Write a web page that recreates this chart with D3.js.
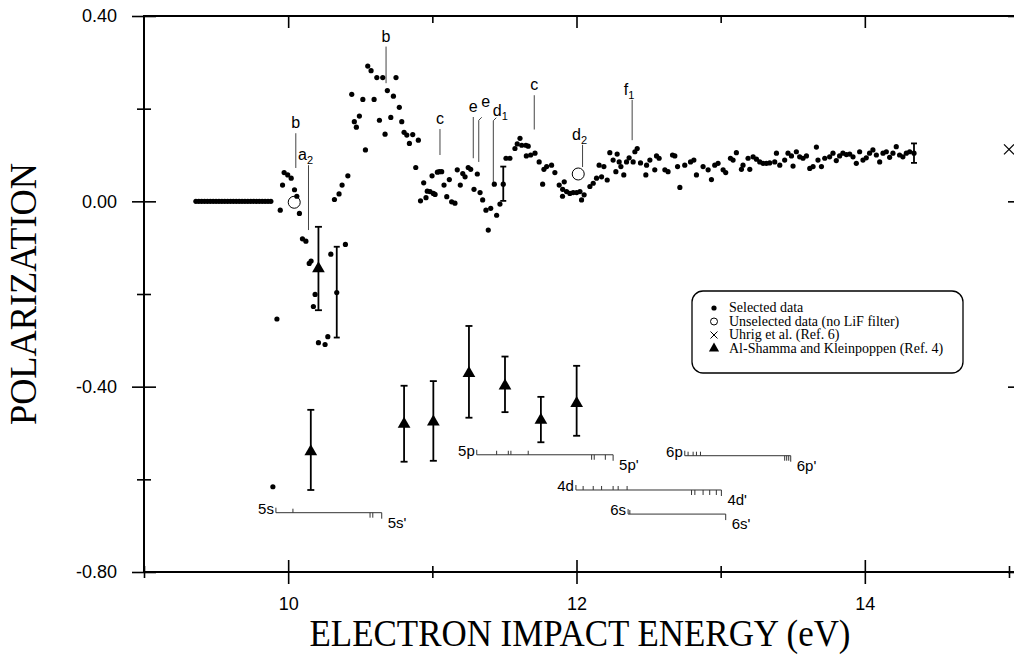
<!DOCTYPE html>
<html lang="en">
<head>
<meta charset="UTF-8">
<title>Polarization vs electron impact energy</title>
<script src="https://cdn.jsdelivr.net/npm/d3@7"></script>
<style>
  body { margin: 0; background: #fff; }
  svg text { fill: #000; }
</style>
</head>
<body>
<div id="grafica"></div>
<script>
// ---- data (energy in eV, polarization) ----
const zeroE = [9.36,9.38,9.40,9.42,9.44,9.46,9.48,9.50,9.52,9.54,9.56,9.58,9.60,9.62,
  9.64,9.66,9.68,9.70,9.72,9.74,9.76,9.78,9.80,9.82,9.84,9.86,9.88]

const selected = [
  [9.894,-0.616],[9.922,-0.254],[9.945,-0.019],[9.961,0.035],[9.972,0.062],[9.997,0.057],
  [10.021,0.050],[10.044,0.025],[10.060,0.011],[10.078,-0.026],[10.099,-0.081],[10.123,-0.086],
  [10.146,-0.134],[10.159,-0.129],[10.175,-0.227],[10.187,-0.201],[10.210,-0.305],[10.256,-0.309],
  [10.275,-0.292],[10.296,-0.114],[10.321,0.004],[10.337,-0.197],[10.353,0.016],[10.374,0.035],
  [10.397,-0.093],[10.414,0.055],[10.441,0.231],[10.459,0.172],[10.473,0.160],[10.494,0.184],
  [10.518,0.220],[10.536,0.111],[10.552,0.292],[10.575,0.282],[10.596,0.220],[10.615,0.267],
  [10.633,0.175],[10.656,0.267],[10.672,0.145],[10.688,0.239],[10.712,0.181],[10.730,0.227],
  [10.748,0.267],[10.771,0.203],[10.788,0.172],[10.804,0.149],[10.823,0.143],[10.841,0.125],
  [10.864,0.144],[10.885,0.073],[10.903,0.132],[10.918,0.001],[10.940,0.040],[10.956,0.008],
  [10.965,0.022],[10.984,0.021],[10.998,0.055],[11.007,0.017],[11.019,0.015],[11.035,0.063],
  [11.049,0.064],[11.065,0.064],[11.081,0.035],[11.100,0.010],[11.118,0.047],[11.134,-0.001],
  [11.157,-0.004],[11.173,0.068],[11.194,0.035],[11.211,0.060],[11.227,0.053],[11.249,0.073],
  [11.266,0.069],[11.289,0.026],[11.312,0.059],[11.331,0.019],[11.349,0.003],[11.372,-0.019],
  [11.388,-0.062],[11.405,-0.015],[11.430,0.037],[11.446,-0.030],[11.469,-0.006],[11.492,0.037],
  [11.511,0.093],[11.538,0.093],[11.573,0.114],[11.589,0.124],[11.608,0.136],[11.620,0.121],
  [11.649,0.121],[11.652,0.098],[11.665,0.119],[11.682,0.100],[11.712,0.104],[11.741,0.085],
  [11.765,0.037],[11.774,0.069],[11.793,0.075],[11.827,0.078],[11.850,0.062],[11.880,0.035],
  [11.903,0.011],[11.904,0.026],[11.915,0.042],[11.931,0.021],[11.954,0.017],[11.977,0.019],
  [12.001,0.019],[12.024,0.021],[12.035,0.003],[12.053,0.014],[12.093,0.032],[12.116,0.039],
  [12.139,0.050],[12.157,0.078],[12.174,0.053],[12.190,0.075],[12.213,0.046],[12.231,0.105],
  [12.254,0.089],[12.273,0.064],[12.282,0.102],[12.296,0.085],[12.308,0.075],[12.328,0.057],
  [12.347,0.085],[12.365,0.094],[12.393,0.085],[12.405,0.107],[12.421,0.114],[12.444,0.083],
  [12.481,0.057],[12.486,0.078],[12.509,0.089],[12.543,0.068],[12.555,0.098],[12.573,0.093],
  [12.613,0.068],[12.635,0.064],[12.666,0.100],[12.682,0.098],[12.701,0.075],[12.717,0.030],
  [12.751,0.078],[12.791,0.085],[12.814,0.089],[12.832,0.057],[12.878,0.075],[12.913,0.068],
  [12.936,0.047],[12.959,0.078],[12.982,0.082],[13.017,0.068],[13.035,0.062],[13.068,0.093],
  [13.086,0.089],[13.109,0.105],[13.144,0.069],[13.155,0.078],[13.190,0.093],[13.202,0.069],
  [13.225,0.096],[13.248,0.091],[13.271,0.085],[13.294,0.082],[13.317,0.082],[13.340,0.083],
  [13.375,0.085],[13.387,0.104],[13.410,0.078],[13.444,0.089],[13.467,0.104],[13.491,0.098],
  [13.502,0.076],[13.525,0.107],[13.548,0.096],[13.571,0.093],[13.595,0.098],[13.618,0.071],
  [13.641,0.075],[13.664,0.117],[13.675,0.089],[13.699,0.075],[13.722,0.093],[13.756,0.096],
  [13.779,0.104],[13.802,0.088],[13.825,0.098],[13.848,0.104],[13.872,0.101],[13.895,0.102],
  [13.918,0.096],[13.941,0.082],[13.964,0.107],[13.987,0.089],[14.010,0.094],[14.033,0.104],
  [14.056,0.111],[14.080,0.100],[14.103,0.085],[14.126,0.104],[14.149,0.107],[14.172,0.095],
  [14.195,0.104],[14.218,0.118],[14.241,0.100],[14.264,0.096],[14.288,0.104],[14.311,0.107],
  [14.341,0.104]
]
// representative error bars on selected data: [E, high, low]
const selErr = [[10.337,-0.098,-0.294],[11.492,0.075,0.001],[14.341,0.125,0.083]]

const unselected = [[10.042,-0.002],[12.012,0.059]]
const uhrig = [[15.0,0.112]]
// Al-Shamma and Kleinpoppen: [E, P, high, low]
const alShamma = [
  [10.157,-0.540,-0.450,-0.623],[10.210,-0.145,-0.055,-0.235],[10.804,-0.481,-0.398,-0.562],
  [11.007,-0.476,-0.388,-0.560],[11.254,-0.371,-0.269,-0.467],[11.504,-0.398,-0.335,-0.455],
  [11.753,-0.472,-0.422,-0.520],[12.001,-0.436,-0.355,-0.506]
]

// energy level bars
const levels = [
  {lo:'5s', hi:"5s'", e0:9.915, e1:10.649, p:-0.672, up:[10.033], down:[10.568,10.587]},
  {lo:'5p', hi:"5p'", e0:11.308, e1:12.254, p:-0.547, up:[11.446,11.527,11.545,11.665], down:[12.105,12.123,12.20]},
  {lo:'6p', hi:"6p'", e0:12.751, e1:13.486, p:-0.549, up:[12.774,12.809,12.832,12.860], down:[13.444,13.458,13.472]},
  {lo:'4d', hi:"4d'", e0:11.996, e1:13.005, p:-0.623, up:[12.046,12.116,12.174,12.254,12.289,12.351], down:[12.798,12.821,12.878,12.924,12.970]},
  {lo:'6s', hi:"6s'", e0:12.358, e1:13.035, p:-0.675, up:[12.37], down:[]}
]

// feature markers: label, subscript, energy, top, bottom
const marks = [
  ['b','',10.053,0.147,0.072],['a','2',10.141,0.078,-0.062],['b','',10.679,0.334,0.255],
  ['c','',11.053,0.156,0.100],['e','',11.284,0.182,0.093],['e','',11.322,0.175,0.085],
  ['d','1',11.423,0.174,0.032],['c','',11.707,0.229,0.155],['d','2',12.042,0.122,0.074],
  ['f','1',12.386,0.219,0.132]
]

const yMajor = [0.4, 0, -0.4, -0.8]
const yMinor = [0.2, -0.2, -0.6]
const xMajor = [10, 12, 14]
const xMinor = [9, 11, 13, 15]

// ---- drawing ----
const ancho = 1014, alto = 658
const svg = d3.select('#grafica').append('svg')
  .attr('width', ancho).attr('height', alto)

const x = d3.scaleLinear().domain([9, 15]).range([144, 1009])
const y = d3.scaleLinear().domain([-0.8, 0.4]).range([572, 16])
const xRight = 1016
const sans = '"Liberation Sans", Arial, sans-serif'
const serif = '"Liberation Serif", "Times New Roman", serif'

function clean(g) {
  g.select('.domain').remove()
  g.selectAll('line').attr('stroke', '#000').attr('stroke-width', 1.6)
  g.selectAll('text').attr('font-family', sans).attr('font-size', 18).attr('fill', '#000')
}

// left axis
svg.append('g').attr('transform', `translate(${x(9)},0)`)
  .call(d3.axisLeft(y).tickValues(yMajor).tickSize(12).tickPadding(15).tickFormat(d => d.toFixed(2)))
  .call(clean)
svg.append('g').attr('transform', `translate(${x(9)},0)`)
  .call(d3.axisRight(y).tickValues(yMajor).tickSize(12).tickFormat('')).call(clean)
svg.append('g').attr('transform', `translate(${x(9)},0)`)
  .call(d3.axisLeft(y).tickValues(yMinor).tickSize(7).tickFormat('')).call(clean)
svg.append('g').attr('transform', `translate(${x(9)},0)`)
  .call(d3.axisRight(y).tickValues(yMinor).tickSize(7).tickFormat('')).call(clean)

// bottom axis
svg.append('g').attr('transform', `translate(0,${y(-0.8)})`)
  .call(d3.axisBottom(x).tickValues(xMajor).tickSize(12).tickPadding(13).tickFormat(d3.format('d')))
  .call(clean)
svg.append('g').attr('transform', `translate(0,${y(-0.8)})`)
  .call(d3.axisTop(x).tickValues(xMajor).tickSize(12).tickFormat('')).call(clean)
svg.append('g').attr('transform', `translate(0,${y(-0.8)})`)
  .call(d3.axisBottom(x).tickValues(xMinor).tickSize(6).tickFormat('')).call(clean)
svg.append('g').attr('transform', `translate(0,${y(-0.8)})`)
  .call(d3.axisTop(x).tickValues(xMinor).tickSize(6).tickFormat('')).call(clean)

// top axis (inward ticks)
svg.append('g').attr('transform', `translate(0,${y(0.4)})`)
  .call(d3.axisBottom(x).tickValues(xMajor).tickSize(12).tickFormat('')).call(clean)
svg.append('g').attr('transform', `translate(0,${y(0.4)})`)
  .call(d3.axisBottom(x).tickValues([11, 13]).tickSize(7).tickFormat('')).call(clean)

// right axis (inward ticks)
svg.append('g').attr('transform', `translate(${xRight},0)`)
  .call(d3.axisLeft(y).tickValues(yMajor).tickSize(8).tickFormat('')).call(clean)

// frame
const frame = svg.append('g').attr('stroke', '#000').attr('stroke-width', 2)
frame.append('line').attr('x1', x(9)).attr('x2', x(9)).attr('y1', y(0.4)).attr('y2', y(-0.8))
frame.append('line').attr('x1', x(9) - 1).attr('x2', xRight).attr('y1', y(-0.8)).attr('y2', y(-0.8))
frame.append('line').attr('x1', x(9) - 1).attr('x2', xRight).attr('y1', y(0.4)).attr('y2', y(0.4))
frame.append('line').attr('x1', xRight).attr('x2', xRight).attr('y1', y(0.4)).attr('y2', y(-0.8))

// axis titles
svg.append('text')
  .attr('transform', `translate(36,${(y(0.4) + y(-0.8)) / 2}) rotate(-90)`)
  .attr('text-anchor', 'middle').attr('font-family', serif).attr('font-size', 38)
  .attr('textLength', 262).attr('lengthAdjust', 'spacingAndGlyphs')
  .text('POLARIZATION')
svg.append('text')
  .attr('x', (x(9) + xRight) / 2).attr('y', 646)
  .attr('text-anchor', 'middle').attr('font-family', serif).attr('font-size', 38)
  .attr('textLength', 541).attr('lengthAdjust', 'spacingAndGlyphs')
  .text('ELECTRON IMPACT ENERGY (eV)')

// energy level bars
const lv = svg.append('g').attr('stroke', '#333').attr('stroke-width', 1)
levels.forEach(function(l) {
  const yy = y(l.p)
  lv.append('line').attr('x1', x(l.e0)).attr('x2', x(l.e1)).attr('y1', yy).attr('y2', yy)
  lv.append('line').attr('x1', x(l.e0)).attr('x2', x(l.e0)).attr('y1', yy - 5).attr('y2', yy)
  lv.append('line').attr('x1', x(l.e1)).attr('x2', x(l.e1)).attr('y1', yy).attr('y2', yy + 6)
  l.up.forEach(e => lv.append('line').attr('x1', x(e)).attr('x2', x(e)).attr('y1', yy - 4).attr('y2', yy))
  l.down.forEach(e => lv.append('line').attr('x1', x(e)).attr('x2', x(e)).attr('y1', yy).attr('y2', yy + 5))
  svg.append('text').attr('x', x(l.e0) - 2).attr('y', yy + 1).attr('text-anchor', 'end')
    .attr('font-family', sans).attr('font-size', 15).text(l.lo)
  svg.append('text').attr('x', x(l.e1) + 6).attr('y', yy + 15)
    .attr('font-family', sans).attr('font-size', 15).text(l.hi)
})

// feature markers
const mk = svg.append('g')
marks.forEach(function(m, i) {
  const xx = x(m[2])
  let dx = 0, dy = 0
  if (i === 5) { dx = 7; dy = -8 }
  if (i === 6) { dx = 10 }
  mk.append('line').attr('x1', xx).attr('x2', xx).attr('y1', y(m[3])).attr('y2', y(m[4]))
    .attr('stroke', '#444').attr('stroke-width', 1)
  if (dx) {
    mk.append('line').attr('x1', xx).attr('x2', xx + 3).attr('y1', y(m[3])).attr('y2', y(m[3]) - 3)
      .attr('stroke', '#444').attr('stroke-width', 1)
  }
  const t = mk.append('text').attr('x', xx + dx - (m[1] ? 3 : 0)).attr('y', y(m[3]) - 5 + dy)
    .attr('text-anchor', 'middle').attr('font-family', sans).attr('font-size', 16).text(m[0])
  if (m[1]) t.append('tspan').attr('font-size', 11).attr('dy', 4).text(m[1])
})

// selected data
const dots = svg.append('g')
dots.selectAll('circle.zero').data(zeroE).enter().append('circle')
  .attr('cx', d => x(d)).attr('cy', y(0)).attr('r', 2.6).attr('fill', '#000')
dots.selectAll('circle.sel').data(selected).enter().append('circle')
  .attr('cx', d => x(d[0])).attr('cy', d => y(d[1])).attr('r', 2.6).attr('fill', '#000')

function errorBars(g, data, hi, lo, w) {
  data.forEach(function(d) {
    const xx = x(d[0])
    g.append('line').attr('x1', xx).attr('x2', xx).attr('y1', y(hi(d))).attr('y2', y(lo(d)))
    g.append('line').attr('x1', xx - w).attr('x2', xx + w).attr('y1', y(hi(d))).attr('y2', y(hi(d)))
    g.append('line').attr('x1', xx - w).attr('x2', xx + w).attr('y1', y(lo(d))).attr('y2', y(lo(d)))
  })
}
const eb = svg.append('g').attr('stroke', '#000').attr('stroke-width', 1.8)
errorBars(eb, selErr, d => d[1], d => d[2], 3)
errorBars(eb, alShamma, d => d[2], d => d[3], 3.5)

svg.append('g').selectAll('path').data(alShamma).enter().append('path')
  .attr('d', d3.symbol(d3.symbolTriangle, 70))
  .attr('transform', d => `translate(${x(d[0])},${y(d[1])})`).attr('fill', '#000')

svg.append('g').selectAll('circle').data(unselected).enter().append('circle')
  .attr('cx', d => x(d[0])).attr('cy', d => y(d[1])).attr('r', 6)
  .attr('fill', 'none').attr('stroke', '#000').attr('stroke-width', 1)

const ux = svg.append('g').attr('stroke', '#000').attr('stroke-width', 1.2)
uhrig.forEach(function(d) {
  const cx = x(d[0]), cy = y(d[1])
  ux.append('line').attr('x1', cx - 5).attr('x2', cx + 5).attr('y1', cy - 5).attr('y2', cy + 5)
  ux.append('line').attr('x1', cx - 5).attr('x2', cx + 5).attr('y1', cy + 5).attr('y2', cy - 5)
})

// legend
const leg = svg.append('g').attr('transform', 'translate(692,291)')
leg.append('rect').attr('width', 271).attr('height', 82).attr('rx', 11)
  .attr('fill', '#fff').attr('stroke', '#000').attr('stroke-width', 1.3)
const legItems = ['Selected data', 'Unselected data (no LiF filter)', 'Uhrig et al. (Ref. 6)',
  'Al-Shamma and Kleinpoppen (Ref. 4)']
legItems.forEach(function(s, i) {
  const yy = 17 + i * 13.5
  leg.append('text').attr('x', 37).attr('y', yy + 4).attr('font-family', serif)
    .attr('font-size', 14).text(s)
  if (i === 0) leg.append('circle').attr('cx', 22).attr('cy', yy).attr('r', 2.6)
  if (i === 1) leg.append('circle').attr('cx', 22).attr('cy', yy).attr('r', 3.5)
    .attr('fill', 'none').attr('stroke', '#000')
  if (i === 2) {
    leg.append('line').attr('x1', 18.5).attr('x2', 25.5).attr('y1', yy - 3.5).attr('y2', yy + 3.5).attr('stroke', '#000')
    leg.append('line').attr('x1', 18.5).attr('x2', 25.5).attr('y1', yy + 3.5).attr('y2', yy - 3.5).attr('stroke', '#000')
  }
  if (i === 3) leg.append('path').attr('d', d3.symbol(d3.symbolTriangle, 45))
    .attr('transform', `translate(22,${yy})`)
})
</script>
</body>
</html>
